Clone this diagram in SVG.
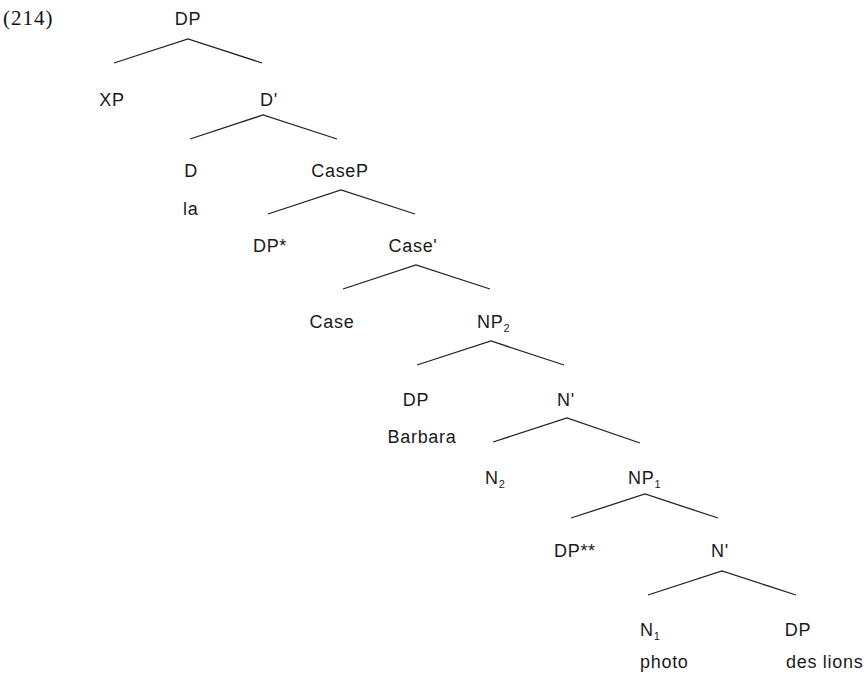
<svg xmlns="http://www.w3.org/2000/svg" width="865" height="675" viewBox="0 0 865 675">
<style>
.t{font-family:"Liberation Sans",Arial,sans-serif;font-size:18px;letter-spacing:0.7px;fill:#1a1a1a}
.m{text-anchor:middle}
.s{font-size:11px;letter-spacing:0}
.n{font-family:"Liberation Serif","Times New Roman",serif;font-size:21px;letter-spacing:1px;fill:#111}
.e{fill:none;stroke:#222;stroke-width:1.3}
</style>
<rect width="865" height="675" fill="#fff"/>
<text class="n" x="3" y="25">(214)</text>
<g id="edges">
<polyline class="e" points="114,63 188,39 262,63"/>
<polyline class="e" points="190,139 263,115 337,139"/>
<polyline class="e" points="268,214 341,190 415,214"/>
<polyline class="e" points="343,289 416,265 490,289"/>
<polyline class="e" points="417,365 491,341 564,365"/>
<polyline class="e" points="493,442 567,418 640,443"/>
<polyline class="e" points="571,518 645,494 718,518"/>
<polyline class="e" points="648,595 722,571 796,595"/>
</g>
<g id="n-dp"><text class="t m" x="188" y="25">DP</text></g>
<g id="n-xp"><text class="t m" x="112" y="106">XP</text></g>
<g id="n-dbar"><text class="t m" x="269" y="106">D'</text></g>
<g id="n-d"><text class="t m" x="191" y="177">D</text><text class="t" x="183" y="215">la</text></g>
<g id="n-casep"><text class="t m" x="340" y="177">CaseP</text></g>
<g id="n-dpstar"><text class="t m" x="270" y="252">DP*</text></g>
<g id="n-casebar"><text class="t m" x="413" y="252">Case'</text></g>
<g id="n-case"><text class="t m" x="332" y="328">Case</text></g>
<g id="n-np2"><text class="t" x="477" y="328">NP<tspan class="s" dy="4">2</tspan></text></g>
<g id="n-dp-barbara"><text class="t m" x="416" y="406">DP</text><text class="t m" x="422" y="443">Barbara</text></g>
<g id="n-nbar2"><text class="t m" x="566" y="406">N'</text></g>
<g id="n-n2"><text class="t" x="485" y="484">N<tspan class="s" dy="4">2</tspan></text></g>
<g id="n-np1"><text class="t" x="628" y="484">NP<tspan class="s" dy="4">1</tspan></text></g>
<g id="n-dpstar2"><text class="t" x="554" y="557">DP**</text></g>
<g id="n-nbar1"><text class="t m" x="720" y="557">N'</text></g>
<g id="n-n1"><text class="t" x="640" y="636">N<tspan class="s" dy="4">1</tspan></text><text class="t" x="640" y="668">photo</text></g>
<g id="n-dp-lions"><text class="t m" x="798" y="636">DP</text><text class="t" x="786" y="668">des lions</text></g>
</svg>
